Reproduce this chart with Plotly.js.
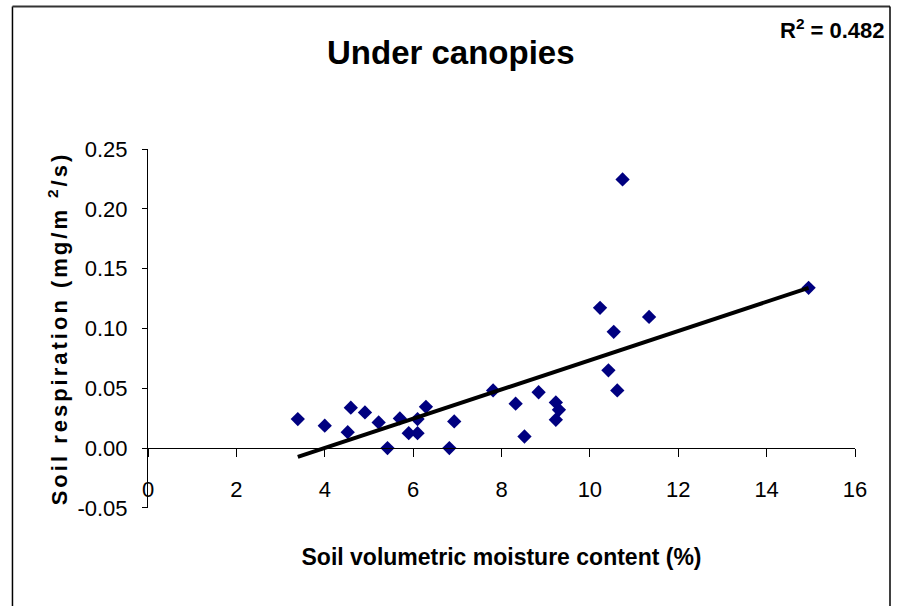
<!DOCTYPE html>
<html>
<head>
<meta charset="utf-8">
<script src="https://cdn.plot.ly/plotly-3.0.1.min.js"></script>
<style>
html,body{margin:0;padding:0;background:#fff;}
#chart{width:898px;height:606px;}
.ytitle{letter-spacing:3px;}
</style>
</head>
<body>
<div id="chart"></div>
<script>
// Observed data: soil volumetric moisture content (%) vs soil respiration (mg/m2/s)
var moisture = [3.39, 4.00, 4.52, 4.59, 4.91, 5.22, 5.42, 5.70, 5.90, 6.10, 6.10, 6.29,
                6.82, 6.93, 7.81, 8.32, 8.52, 8.84, 9.23, 9.30, 9.23,
                10.23, 10.42, 10.54, 10.62, 10.74, 11.34, 14.95];
var respiration = [0.0243, 0.0187, 0.0133, 0.0338, 0.0298, 0.0215, 0.0000, 0.0248, 0.0125, 0.0125, 0.0243, 0.0345,
                   0.0000, 0.0223, 0.0482, 0.0371, 0.0097, 0.0467, 0.0382, 0.0320, 0.0237,
                   0.1173, 0.0650, 0.0972, 0.0482, 0.2247, 0.1097, 0.1340];
var trendX = [3.39, 14.95];
var trendY = [-0.0073, 0.1340];
// Axis ticks
var yTickVals = [-0.05, 0, 0.05, 0.10, 0.15, 0.20, 0.25];
var yTickText = ["-0.05", "0.00", "0.05", "0.10", "0.15", "0.20", "0.25"];
var xTickVals = [0, 2, 4, 6, 8, 10, 12, 14, 16];
var xTickText = ["0", "2", "4", "6", "8", "10", "12", "14", "16"];
var r2Text = "R<sup>2</sup> = 0.482";

var arial = '"Liberation Sans", Arial, sans-serif';

var traces = [
  {
    type: 'scatter', mode: 'markers', x: moisture, y: respiration,
    xaxis: 'x', yaxis: 'y',
    marker: {symbol: 'diamond', size: 11, color: '#000080', line: {width: 0}},
    hoverinfo: 'x+y', showlegend: false
  },
  {
    type: 'scatter', mode: 'lines', x: trendX, y: trendY,
    xaxis: 'x2', yaxis: 'y',
    line: {color: '#000000', width: 4},
    showlegend: false
  }
];

var layout = {
  width: 898, height: 606,
  margin: {l: 148, r: 43, t: 149, b: 98},
  paper_bgcolor: '#ffffff', plot_bgcolor: '#ffffff',
  font: {family: arial, color: '#000000'},
  showlegend: false,
  title: {
    text: '<b>Under canopies</b>',
    font: {family: arial, size: 33, color: '#000000'},
    x: 0.502, xref: 'container', xanchor: 'center',
    y: 0.914, yref: 'container', yanchor: 'middle'
  },
  xaxis: {
    range: [-0.0001, 16.0001], tickvals: xTickVals, ticktext: xTickText,
    anchor: 'free', position: 0.095,
    showline: false, zeroline: false, showgrid: false, ticks: '',
    tickfont: {family: arial, size: 22, color: '#000000'},
    title: {text: '<b>Soil volumetric moisture content (%)</b>',
            font: {family: arial, size: 23, color: '#000000'}, standoff: 48},
    automargin: false
  },
  xaxis2: {
    range: [-0.0001, 16.0001], tickvals: xTickVals, overlaying: 'x', matches: 'x',
    anchor: 'free', position: 0.05 / 0.30,
    showline: true, linecolor: '#000000', linewidth: 1,
    ticks: 'outside', ticklen: 8, tickcolor: '#000000', tickwidth: 1,
    showticklabels: false, zeroline: false, showgrid: false
  },
  yaxis: {
    range: [-0.0501, 0.2501], tickvals: yTickVals, ticktext: yTickText,
    showline: true, linecolor: '#000000', linewidth: 1,
    ticks: 'outside', ticklen: 5, tickcolor: '#000000', tickwidth: 1,
    zeroline: false, showgrid: false,
    tickfont: {family: arial, size: 22, color: '#000000'},
    ticklabelstandoff: 10,
    title: {text: '<b>Soil respiration (mg/m <sup>2</sup>/s)</b>',
            font: {family: arial, size: 22, color: '#000000'}, standoff: 3},
    automargin: false
  },
  annotations: [
    {text: '<b>' + r2Text + '</b>', xref: 'paper', yref: 'paper',
     x: 1.045, y: 1.333, xanchor: 'right', yanchor: 'middle', showarrow: false,
     font: {family: arial, size: 22, color: '#000000'}}
  ],
  shapes: [
    {type: 'line', xref: 'paper', yref: 'paper', x0: -0.1917, x1: -0.1917, y0: -0.35, y1: 1.397,
     line: {color: '#000000', width: 1.5}},
    {type: 'line', xref: 'paper', yref: 'paper', x0: -0.1917, x1: 1.0495, y0: 1.397, y1: 1.397,
     line: {color: '#333333', width: 2}},
    {type: 'line', xref: 'paper', yref: 'paper', x0: 1.0495, x1: 1.0495, y0: -0.35, y1: 1.397,
     line: {color: '#000000', width: 1.5}}
  ]
};

Plotly.newPlot('chart', traces, layout, {displayModeBar: false, staticPlot: true});
</script>
</body>
</html>
